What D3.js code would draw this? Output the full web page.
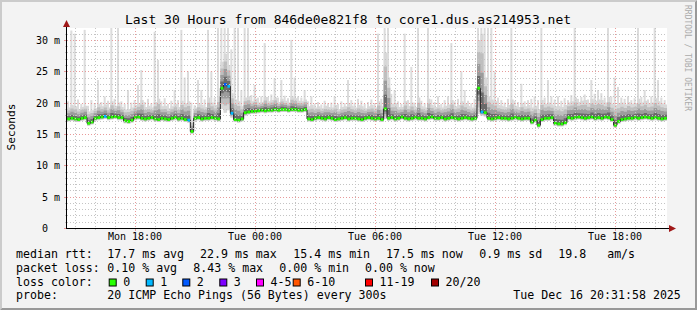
<!DOCTYPE html>
<html>
<head>
<meta charset="utf-8">
<script src="https://cdn.jsdelivr.net/npm/d3@7"></script>
<style>
  html, body { margin: 0; padding: 0; background: #f3f3f3; }
  svg { display: block; }
  text { font-family: "DejaVu Sans Mono", monospace; white-space: pre; }
</style>
</head>
<body>
<div id="chart"></div>
<script>
// ---- data (10 minute steps) ----
const startTime = new Date(2025, 11, 15, 14, 36)
const stepMinutes = 10

const median = [
  17.4, 17.5, 17.4, 17.3, 17.5, 17.6, 16.7, 16.9, 17.5, 17.6,
  17.7, 17.8, 17.6, 17.7, 17.8, 17.6, 17.6, 17.1, 17.0, 17.2,
  17.6, 17.7, 17.5, 17.4, 17.5, 17.6, 17.4, 17.3, 17.5, 17.4,
  17.3, 17.5, 17.6, 17.4, 17.5, 17.3, 17.2, 15.4, 17.5, 17.6,
  17.4, 17.5, 17.5, 17.6, 17.5, 17.4, 22.3, 22.9, 22.6, 18.3,
  17.3, 17.2, 17.4, 18.4, 18.5, 18.6, 18.6, 18.7, 18.8, 18.7,
  18.8, 18.8, 18.9, 18.8, 18.9, 18.9, 18.8, 18.9, 18.9, 18.8,
  18.8, 18.9, 17.4, 17.3, 17.5, 17.6, 17.5, 17.4, 17.6, 17.5,
  17.3, 17.4, 17.5, 17.6, 17.4, 17.5, 17.5, 17.4, 17.3, 17.5,
  17.6, 17.5, 17.4, 17.5, 17.3, 19.0, 17.5, 17.6, 17.4, 17.5,
  17.7, 17.5, 17.4, 17.5, 17.6, 17.5, 17.5, 17.4, 17.6, 17.7,
  17.5, 17.5, 17.6, 17.4, 17.5, 17.6, 17.5, 17.4, 17.5, 17.6,
  17.5, 17.4, 17.5, 22.3, 18.5, 18.4, 17.5, 17.4, 17.5, 17.6,
  17.5, 17.5, 17.4, 17.5, 17.6, 17.5, 17.4, 17.5, 17.5, 16.9,
  17.2, 16.4, 17.3, 17.5, 17.5, 17.6, 16.7, 16.6, 16.6, 16.8,
  17.6, 17.5, 17.6, 17.7, 17.6, 17.5, 17.6, 17.7, 17.5, 17.6,
  17.5, 17.7, 17.6, 17.3, 16.4, 17.0, 17.3, 17.4, 17.5, 17.5,
  17.6, 17.5, 17.6, 17.7, 17.6, 17.5, 17.6, 17.5, 17.4, 17.5
]

const pingMin = [
  17.0, 17.1, 17.0, 16.9, 17.1, 17.2, 16.3, 16.5, 17.1, 17.2,
  17.3, 17.4, 17.2, 17.3, 17.4, 17.2, 17.2, 16.7, 16.6, 16.8,
  17.2, 17.3, 17.1, 17.0, 17.1, 17.2, 17.0, 16.9, 17.1, 17.0,
  16.9, 17.1, 17.2, 17.0, 17.1, 16.9, 16.8, 15.0, 17.1, 17.2,
  17.0, 17.1, 17.1, 17.2, 17.1, 17.0, 19.0, 18.4, 18.8, 17.6,
  16.9, 16.8, 17.0, 17.9, 18.1, 18.2, 18.2, 18.3, 18.4, 18.3,
  18.4, 18.4, 18.5, 18.4, 18.5, 18.5, 18.4, 18.5, 18.5, 18.4,
  18.4, 18.5, 17.0, 16.9, 17.1, 17.2, 17.1, 17.0, 17.2, 17.1,
  16.9, 17.0, 17.1, 17.2, 17.0, 17.1, 17.1, 17.0, 16.9, 17.1,
  17.2, 17.1, 17.0, 17.1, 16.9, 17.4, 17.1, 17.2, 17.0, 17.1,
  17.3, 17.1, 17.0, 17.1, 17.2, 17.1, 17.1, 17.0, 17.2, 17.3,
  17.1, 17.1, 17.2, 17.0, 17.1, 17.2, 17.1, 17.0, 17.1, 17.2,
  17.1, 17.0, 17.1, 18.2, 17.9, 17.8, 17.1, 17.0, 17.1, 17.2,
  17.1, 17.1, 17.0, 17.1, 17.2, 17.1, 17.0, 17.1, 17.1, 16.5,
  16.8, 16.0, 16.9, 17.1, 17.1, 17.2, 16.3, 16.2, 16.2, 16.4,
  17.2, 17.1, 17.2, 17.3, 17.2, 17.1, 17.2, 17.3, 17.1, 17.2,
  17.1, 17.3, 17.2, 16.9, 16.0, 16.6, 16.9, 17.0, 17.1, 17.1,
  17.2, 17.1, 17.2, 17.3, 17.2, 17.1, 17.2, 17.1, 17.0, 17.1
]

// upper edge of the dense smoke
const smokeTop = [
  19.2, 19.6, 19.4, 19.0, 19.3, 19.5, 18.6, 18.8, 19.1, 19.8,
  19.4, 19.7, 19.2, 20.2, 19.5, 20.0, 19.3, 18.9, 19.0, 19.2,
  19.6, 19.9, 20.4, 19.3, 19.5, 19.2, 20.1, 20.6, 19.4, 19.5,
  19.1, 19.4, 19.8, 19.3, 20.3, 19.9, 20.2, 17.2, 19.2, 19.8,
  19.6, 19.3, 20.8, 20.0, 19.6, 21.0, 26.5, 27.8, 26.0, 21.5,
  20.5, 20.2, 19.4, 20.8, 21.0, 20.2, 20.6, 20.0, 20.1, 20.9,
  20.2, 20.4, 20.8, 20.1, 20.6, 20.3, 20.0, 21.0, 20.7, 20.3,
  20.2, 20.5, 19.4, 19.6, 19.2, 19.4, 19.1, 19.5, 19.3, 19.2,
  19.6, 19.0, 19.3, 19.4, 19.9, 19.5, 19.2, 19.6, 19.4, 19.1,
  19.4, 19.6, 19.2, 20.2, 19.4, 28.0, 24.0, 19.8, 19.9, 19.3,
  19.3, 20.2, 19.5, 20.0, 19.3, 20.8, 19.4, 19.2, 20.6, 19.6,
  19.3, 19.6, 19.2, 19.5, 19.7, 20.4, 19.4, 19.6, 20.2, 19.8,
  19.5, 19.2, 19.6, 30.0, 31.0, 24.0, 21.0, 20.5, 20.2, 19.6,
  19.5, 19.3, 19.6, 20.5, 19.5, 19.3, 19.9, 19.4, 19.6, 19.2,
  19.5, 19.0, 20.4, 19.8, 20.0, 19.7, 19.4, 19.5, 19.3, 19.6,
  20.0, 20.2, 20.8, 20.1, 20.3, 20.4, 19.9, 20.6, 20.3, 20.5,
  20.4, 20.0, 20.9, 19.8, 19.6, 19.8, 20.0, 19.7, 20.1, 19.8,
  19.9, 20.6, 20.0, 20.3, 19.8, 20.0, 20.7, 20.2, 19.9, 19.7
]

// slowest ping of each step
const pingMax = [
  20.2, 31.5, 31.0, 20.5, 19.8, 31.6, 19.5, 20.4, 19.9, 23.6,
  20.1, 21.0, 20.3, 38.0, 20.6, 36.0, 20.2, 19.8, 22.0, 20.0,
  20.4, 22.8, 25.2, 20.1, 20.6, 19.9, 31.3, 26.8, 20.2, 20.7,
  19.8, 20.3, 22.0, 20.4, 31.6, 24.0, 25.0, 20.0, 19.6, 23.6,
  22.0, 20.5, 31.6, 25.0, 20.8, 40.0, 42.0, 45.0, 40.0, 28.5,
  38.0, 36.0, 22.0, 37.0, 36.0, 21.2, 22.8, 20.8, 21.0, 29.5,
  20.9, 21.3, 23.9, 20.8, 23.6, 21.1, 20.7, 30.0, 24.0, 21.0,
  20.8, 22.0, 20.2, 21.0, 19.8, 20.1, 19.7, 20.3, 19.9, 20.0,
  21.0, 19.8, 20.2, 19.9, 23.6, 20.4, 20.0, 20.6, 20.3, 19.8,
  20.1, 20.5, 19.9, 31.0, 20.6, 45.0, 38.0, 21.4, 22.0, 20.2,
  19.8, 31.0, 20.4, 25.7, 20.0, 36.0, 20.3, 19.9, 37.0, 20.5,
  20.1, 21.0, 19.8, 20.4, 21.0, 29.5, 20.2, 20.6, 25.0, 22.0,
  20.3, 19.9, 20.6, 45.0, 44.0, 38.0, 36.0, 37.0, 25.0, 20.8,
  20.4, 20.0, 20.6, 36.0, 20.3, 20.1, 23.0, 20.2, 20.4, 20.6,
  21.0, 20.4, 36.0, 20.8, 23.6, 21.0, 20.5, 21.0, 20.3, 20.7,
  20.4, 21.2, 37.0, 20.6, 20.9, 21.3, 20.5, 23.6, 21.4, 22.0,
  21.5, 20.8, 36.0, 21.0, 24.0, 22.5, 20.8, 20.6, 21.0, 20.4,
  20.7, 36.0, 20.9, 22.0, 20.5, 21.0, 36.0, 23.6, 20.8, 20.4
]

// steps with lost pings (index, pings lost of 20)
const lossIdx = [11, 36, 47, 48, 49, 124]
const lossPings = [1, 1, 2, 1, 1, 1]

const lossLabels = ['0', '1', '2', '3', '4-5', '6-10', '11-19', '20/20']
const lossColors = ['#26ff00', '#00b8ff', '#0059ff', '#7e00ff', '#ff00ff', '#ff5500', '#ff0000', '#a10000']

const titleText = 'Last 30 Hours from 846de0e821f8 to core1.dus.as214953.net'
const rttStats = ['17.7 ms avg', '22.9 ms max', '15.4 ms min', '17.5 ms now', '0.9 ms sd', '19.8   am/s']
const lossStats = ['0.10 % avg', '8.43 % max', '0.00 % min', '0.00 % now']
const probeText = '20 ICMP Echo Pings (56 Bytes) every 300s'
const stampText = 'Tue Dec 16 20:31:58 2025'
const yMax = 31.9

// ---- layout ----
const width = 697
const height = 310
const plot = {left: 67, right: 667, top: 28, bottom: 228}
const rttX = [107.3, 200, 293.3, 386, 479.3, 558.3]
const lossX = [107.3, 193.3, 279.3, 365]
const boxX = [108.7, 145.7, 182.3, 219.3, 256, 292.7, 365, 431]
const rowY = [257.5, 271.5, 285.5, 299.3]

const lossBucket = n => n === 0 ? 0 : n <= 3 ? n : n <= 5 ? 4 : n <= 10 ? 5 : n <= 19 ? 6 : 7

const times = median.map((d, i) => d3.timeMinute.offset(startTime, i * stepMinutes))
const endTime = d3.timeMinute.offset(startTime, median.length * stepMinutes)
const rows = times.map((t, i) => {
  const j = lossIdx.indexOf(i)
  return {t, t1: d3.timeMinute.offset(t, stepMinutes), med: median[i], lo: pingMin[i],
    top: smokeTop[i], hi: pingMax[i], loss: j < 0 ? 0 : lossPings[j]}
})
const stepRows = rows.concat([{...rows[rows.length - 1], t: endTime}])

const x = d3.scaleTime().domain([startTime, endTime]).range([plot.left, plot.right])
const y = d3.scaleLinear().domain([0, yMax]).range([plot.bottom, plot.top])

const svg = d3.select('#chart').append('svg')
  .attr('width', width)
  .attr('height', height)

// frame
svg.append('rect').attr('width', width).attr('height', height).attr('fill', '#f3f3f3')
svg.append('polygon')
  .attr('points', `0,0 ${width},0 ${width - 2},2 2,2 2,${height - 2} 0,${height}`)
  .attr('fill', '#cbcbcb')
svg.append('polygon')
  .attr('points', `${width},0 ${width},${height} 0,${height} 2,${height - 2} ${width - 2},${height - 2} ${width - 2},2`)
  .attr('fill', '#999999')

svg.append('clipPath').attr('id', 'clip')
  .append('rect')
  .attr('x', plot.left).attr('y', plot.top)
  .attr('width', plot.right - plot.left).attr('height', plot.bottom - plot.top)

svg.append('rect')
  .attr('x', plot.left).attr('y', plot.top)
  .attr('width', plot.right - plot.left).attr('height', plot.bottom - plot.top)
  .attr('fill', '#ffffff')

const g = svg.append('g').attr('clip-path', 'url(#clip)')

// slowest pings: thin light columns
g.selectAll('.hi')
  .data(rows)
  .join('rect')
  .attr('class', 'hi')
  .attr('x', d => x(d.t))
  .attr('width', (x(rows[0].t1) - x(rows[0].t)) * 0.6)
  .attr('y', d => y(d.hi))
  .attr('height', d => y(d.lo) - y(d.hi))
  .attr('fill', '#dcdcdc')

// smoke: denser layers towards the median
const smokeShades = ['#6a6a6a', '#9c9c9c', '#bebebe', '#d8d8d8']
for (let k = smokeShades.length; k >= 1; k--) {
  const f = k / smokeShades.length
  g.append('path')
    .datum(stepRows)
    .attr('fill', smokeShades[k - 1])
    .attr('d', d3.area().curve(d3.curveStepAfter)
      .x(d => x(d.t))
      .y0(d => y(d.med + (d.lo - d.med) * f))
      .y1(d => y(d.med + (d.top - d.med) * f)))
}

// median, dark line then loss-coloured steps
g.append('path')
  .datum(stepRows)
  .attr('fill', 'none')
  .attr('stroke', '#202020')
  .attr('stroke-width', 1)
  .attr('d', d3.line().curve(d3.curveStepAfter).x(d => x(d.t)).y(d => y(d.med)))

g.selectAll('.med')
  .data(rows)
  .join('line')
  .attr('class', 'med')
  .attr('x1', d => x(d.t) + 0.3)
  .attr('x2', d => x(d.t1) - 0.3)
  .attr('y1', d => y(d.med))
  .attr('y2', d => y(d.med))
  .attr('stroke', d => lossColors[lossBucket(d.loss)])
  .attr('stroke-width', 2.8)

// grid (drawn over the data, like rrdtool)
const crisp = v => Math.round(v) + 0.5
const grid = svg.append('g')
const minorY = y.ticks(32).filter(v => v % 5 !== 0)
const majorY = y.ticks(6)
const minorX = x.ticks(d3.timeHour.every(1)).filter(t => t.getHours() % 6 !== 0)
const majorX = x.ticks(d3.timeHour.every(6))

grid.selectAll('.gy')
  .data(minorY)
  .join('line')
  .attr('x1', plot.left).attr('x2', plot.right)
  .attr('y1', d => crisp(y(d))).attr('y2', d => crisp(y(d)))
  .attr('stroke', '#c4c4c4').attr('stroke-dasharray', '1,2')
grid.selectAll('.gx')
  .data(minorX)
  .join('line')
  .attr('x1', d => crisp(x(d))).attr('x2', d => crisp(x(d)))
  .attr('y1', plot.top).attr('y2', plot.bottom)
  .attr('stroke', '#c4c4c4').attr('stroke-dasharray', '1,2')
grid.selectAll('.my')
  .data(majorY.filter(v => v > 0))
  .join('line')
  .attr('x1', plot.left).attr('x2', plot.right)
  .attr('y1', d => crisp(y(d))).attr('y2', d => crisp(y(d)))
  .attr('stroke', '#e89a9a').attr('stroke-dasharray', '1,2')
grid.selectAll('.mx')
  .data(majorX)
  .join('line')
  .attr('x1', d => crisp(x(d))).attr('x2', d => crisp(x(d)))
  .attr('y1', plot.top).attr('y2', plot.bottom)
  .attr('stroke', '#e89a9a').attr('stroke-dasharray', '1,2')

// small ticks outside the axes
grid.selectAll('.ty')
  .data(y.ticks(32))
  .join('line')
  .attr('x1', d => d % 5 === 0 ? plot.left - 3 : plot.left - 2).attr('x2', plot.left)
  .attr('y1', d => crisp(y(d))).attr('y2', d => crisp(y(d)))
  .attr('stroke', d => d % 5 === 0 ? '#e89a9a' : '#c4c4c4')
grid.selectAll('.tx')
  .data(x.ticks(d3.timeHour.every(1)))
  .join('line')
  .attr('x1', d => crisp(x(d))).attr('x2', d => crisp(x(d)))
  .attr('y1', plot.bottom).attr('y2', d => d.getHours() % 6 === 0 ? plot.bottom + 3 : plot.bottom + 2)
  .attr('stroke', d => d.getHours() % 6 === 0 ? '#e89a9a' : '#c4c4c4')

// axes with arrows
svg.append('line')
  .attr('x1', plot.left - 0.5).attr('x2', plot.left - 0.5)
  .attr('y1', plot.top - 5).attr('y2', plot.bottom + 1)
  .attr('stroke', '#000')
svg.append('line')
  .attr('x1', plot.left - 1).attr('x2', plot.right + 4)
  .attr('y1', plot.bottom + 0.5).attr('y2', plot.bottom + 0.5)
  .attr('stroke', '#000')
svg.append('polygon')
  .attr('points', `${plot.left - 0.5},${plot.top - 8} ${plot.left - 4},${plot.top - 1} ${plot.left + 3},${plot.top - 1}`)
  .attr('fill', '#a01818')
svg.append('polygon')
  .attr('points', `${plot.right + 9},${plot.bottom + 0.5} ${plot.right + 2},${plot.bottom - 3} ${plot.right + 2},${plot.bottom + 4}`)
  .attr('fill', '#a01818')

// tick labels
const fmt = d3.timeFormat('%a %H:%M')
svg.selectAll('.xl')
  .data(majorX)
  .join('text')
  .attr('x', d => x(d)).attr('y', plot.bottom + 12)
  .attr('text-anchor', 'middle')
  .attr('font-size', 10)
  .text(d => fmt(d))
svg.selectAll('.yl')
  .data(majorY)
  .join('text')
  .attr('x', 60).attr('y', d => y(d) + 4)
  .attr('text-anchor', 'end')
  .attr('font-size', 10)
  .text(d => d === 0 ? '0  ' : `${d} m`)

// titles
svg.append('text')
  .attr('x', 348).attr('y', 24)
  .attr('text-anchor', 'middle')
  .attr('font-size', 13)
  .text(titleText)
svg.append('text')
  .attr('transform', 'translate(15,127) rotate(-90)')
  .attr('text-anchor', 'middle')
  .attr('font-size', 11.2)
  .text('Seconds')
svg.append('text')
  .attr('transform', 'translate(685,5) rotate(90)')
  .attr('font-size', 8)
  .attr('fill', '#aaaaaa')
  .text('RRDTOOL / TOBI OETIKER')

// legend
const leg = svg.append('g').attr('font-size', 11.6)
const label = (tx, ty, s) => leg.append('text').attr('x', tx).attr('y', ty).text(s)
label(16, rowY[0], 'median rtt:')
rttStats.forEach((s, i) => label(rttX[i], rowY[0], s))
label(16, rowY[1], 'packet loss:')
lossStats.forEach((s, i) => label(lossX[i], rowY[1], s))
label(16, rowY[2], 'loss color:')
lossLabels.forEach((s, i) => {
  leg.append('rect')
    .attr('x', boxX[i] + 0.5).attr('y', rowY[2] - 6.5)
    .attr('width', 7).attr('height', 7)
    .attr('fill', lossColors[i])
    .attr('stroke', '#000')
  label(boxX[i] + 14.5, rowY[2], s)
})
label(16, rowY[3], 'probe:')
label(107.3, rowY[3], probeText)
label(513.3, rowY[3], stampText)
</script>
</body>
</html>
